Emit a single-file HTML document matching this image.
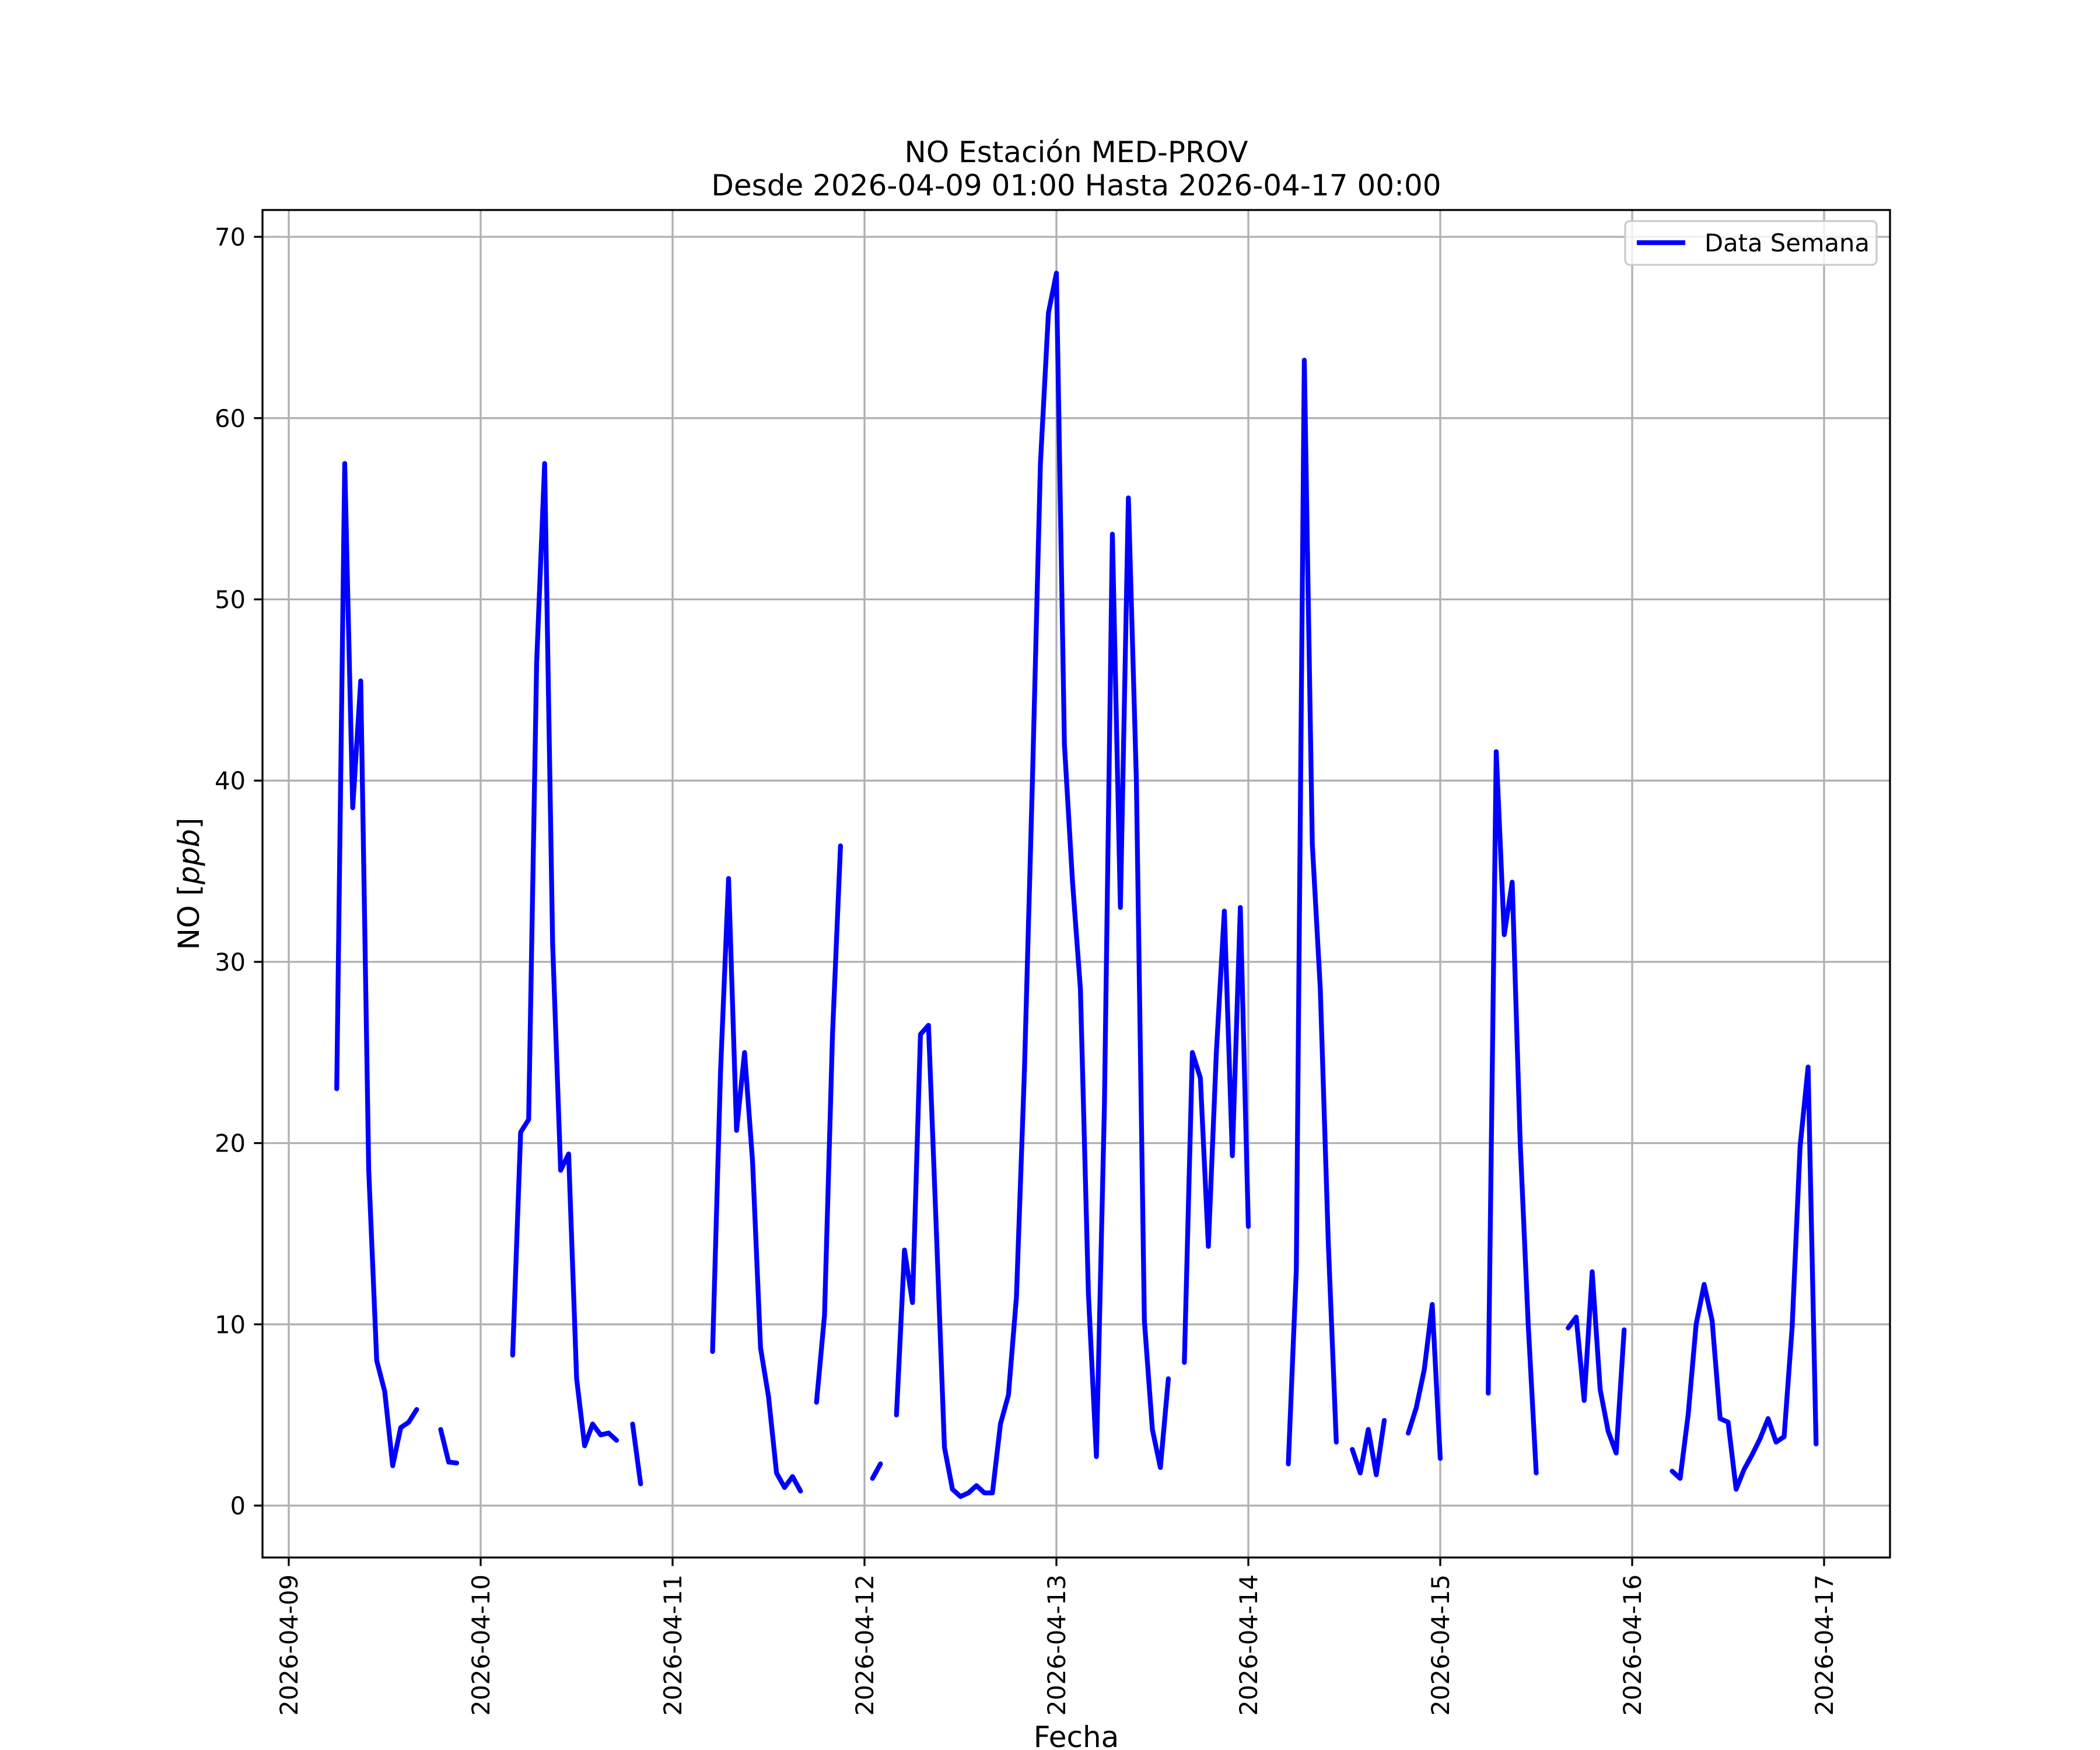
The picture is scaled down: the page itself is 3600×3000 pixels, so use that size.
<!DOCTYPE html>
<html><head><meta charset="utf-8"><style>
html,body{margin:0;padding:0;background:#fff;}
svg{display:block;font-family:"DejaVu Sans","Liberation Sans",sans-serif;}
</style></head><body>
<svg width="3600" height="3000" viewBox="0 0 3600 3000" xmlns="http://www.w3.org/2000/svg">
<rect width="3600" height="3000" fill="#fff"/>
<!-- grid -->
<g stroke="#b0b0b0" stroke-width="3.3">
<line x1="495" y1="360" x2="495" y2="2670"/>
<line x1="824" y1="360" x2="824" y2="2670"/>
<line x1="1153" y1="360" x2="1153" y2="2670"/>
<line x1="1482" y1="360" x2="1482" y2="2670"/>
<line x1="1811" y1="360" x2="1811" y2="2670"/>
<line x1="2140" y1="360" x2="2140" y2="2670"/>
<line x1="2469" y1="360" x2="2469" y2="2670"/>
<line x1="2798" y1="360" x2="2798" y2="2670"/>
<line x1="3127" y1="360" x2="3127" y2="2670"/>
<line x1="450" y1="2581" x2="3240" y2="2581"/>
<line x1="450" y1="2270.3" x2="3240" y2="2270.3"/>
<line x1="450" y1="1959.6" x2="3240" y2="1959.6"/>
<line x1="450" y1="1648.9" x2="3240" y2="1648.9"/>
<line x1="450" y1="1338.2" x2="3240" y2="1338.2"/>
<line x1="450" y1="1027.5" x2="3240" y2="1027.5"/>
<line x1="450" y1="716.8" x2="3240" y2="716.8"/>
<line x1="450" y1="406" x2="3240" y2="406"/>
</g>
<!-- data -->
<g transform="matrix(13.7083,0,0,-31.07,495,2581)" fill="none" stroke="#0000ff" stroke-width="8.3" stroke-linejoin="round" stroke-linecap="round">
<polyline vector-effect="non-scaling-stroke" points="6,23 7,57.5 8,38.5 9,45.5 10,18.5 11,8 12,6.3 13,2.2 14,4.3 15,4.6 16,5.3"/>
<polyline vector-effect="non-scaling-stroke" points="19,4.2 20,2.4 21,2.35"/>
<polyline vector-effect="non-scaling-stroke" points="28,8.3 29,20.6 30,21.3 31,46.5 32,57.5 33,31 34,18.5 35,19.4 36,7 37,3.3 38,4.5 39,3.9 40,4 41,3.6"/>
<polyline vector-effect="non-scaling-stroke" points="43,4.5 44,1.2"/>
<polyline vector-effect="non-scaling-stroke" points="53,8.5 54,24 55,34.6 56,20.7 57,25 58,19 59,8.7 60,6 61,1.8 62,1 63,1.6 64,0.8"/>
<polyline vector-effect="non-scaling-stroke" points="66,5.7 67,10.5 68,26 69,36.4"/>
<polyline vector-effect="non-scaling-stroke" points="73,1.5 74,2.3"/>
<polyline vector-effect="non-scaling-stroke" points="76,5 77,14.1 78,11.2 79,26 80,26.5 81,15 82,3.2 83,0.9 84,0.5 85,0.7 86,1.1 87,0.7 88,0.7 89,4.5 90,6.1 91,11.5 92,24 93,40 94,57.5 95,65.8 96,68 97,42 98,34.5 99,28.5 100,11.7 101,2.7 102,22 103,53.6 104,33 105,55.6 106,40 107,10.2 108,4.2 109,2.1 110,7"/>
<polyline vector-effect="non-scaling-stroke" points="112,7.9 113,25 114,23.6 115,14.3 116,25 117,32.8 118,19.3 119,33 120,15.4"/>
<polyline vector-effect="non-scaling-stroke" points="125,2.3 126,13 127,63.2 128,36.5 129,28.5 130,14.5 131,3.5"/>
<polyline vector-effect="non-scaling-stroke" points="133,3.1 134,1.8 135,4.2 136,1.7 137,4.7"/>
<polyline vector-effect="non-scaling-stroke" points="140,4 141,5.4 142,7.5 143,11.1 144,2.6"/>
<polyline vector-effect="non-scaling-stroke" points="150,6.2 151,41.6 152,31.5 153,34.4 154,20 155,10 156,1.8"/>
<polyline vector-effect="non-scaling-stroke" points="160,9.8 161,10.4 162,5.8 163,12.9 164,6.4 165,4.1 166,2.9 167,9.7"/>
<polyline vector-effect="non-scaling-stroke" points="173,1.9 174,1.5 175,5 176,10 177,12.2 178,10.2 179,4.8 180,4.6 181,0.9 182,2 183,2.8 184,3.7 185,4.8 186,3.5 187,3.8 188,9.8 189,19.8 190,24.2 191,3.4"/>
</g>
<!-- axes frame -->
<rect x="450" y="360" width="2790" height="2310" fill="none" stroke="#000" stroke-width="3.3"/>
<!-- y ticks -->
<g stroke="#000" stroke-width="3.3">
<line x1="435.4" y1="2581" x2="450" y2="2581"/>
<line x1="435.4" y1="2270.3" x2="450" y2="2270.3"/>
<line x1="435.4" y1="1959.6" x2="450" y2="1959.6"/>
<line x1="435.4" y1="1648.9" x2="450" y2="1648.9"/>
<line x1="435.4" y1="1338.2" x2="450" y2="1338.2"/>
<line x1="435.4" y1="1027.5" x2="450" y2="1027.5"/>
<line x1="435.4" y1="716.8" x2="450" y2="716.8"/>
<line x1="435.4" y1="406" x2="450" y2="406"/>
<line x1="495" y1="2670" x2="495" y2="2684.6"/>
<line x1="824" y1="2670" x2="824" y2="2684.6"/>
<line x1="1153" y1="2670" x2="1153" y2="2684.6"/>
<line x1="1482" y1="2670" x2="1482" y2="2684.6"/>
<line x1="1811" y1="2670" x2="1811" y2="2684.6"/>
<line x1="2140" y1="2670" x2="2140" y2="2684.6"/>
<line x1="2469" y1="2670" x2="2469" y2="2684.6"/>
<line x1="2798" y1="2670" x2="2798" y2="2684.6"/>
<line x1="3127" y1="2670" x2="3127" y2="2684.6"/>
</g>
<g font-size="41.7" fill="#000" text-anchor="end">
<text x="421" y="2596">0</text>
<text x="421" y="2285.3">10</text>
<text x="421" y="1974.6">20</text>
<text x="421" y="1663.9">30</text>
<text x="421" y="1353.2">40</text>
<text x="421" y="1042.5">50</text>
<text x="421" y="731.8">60</text>
<text x="421" y="421">70</text>
</g>
<g font-size="41.7" fill="#000" text-anchor="end">
<text transform="translate(510,2699) rotate(-90)">2026-04-09</text>
<text transform="translate(839,2699) rotate(-90)">2026-04-10</text>
<text transform="translate(1168,2699) rotate(-90)">2026-04-11</text>
<text transform="translate(1497,2699) rotate(-90)">2026-04-12</text>
<text transform="translate(1826,2699) rotate(-90)">2026-04-13</text>
<text transform="translate(2155,2699) rotate(-90)">2026-04-14</text>
<text transform="translate(2484,2699) rotate(-90)">2026-04-15</text>
<text transform="translate(2813,2699) rotate(-90)">2026-04-16</text>
<text transform="translate(3142,2699) rotate(-90)">2026-04-17</text>
</g>
<!-- labels -->
<text x="1845" y="2995" font-size="50" text-anchor="middle">Fecha</text>
<text transform="translate(341,1515) rotate(-90)" font-size="50" text-anchor="middle">NO [<tspan font-style="italic">ppb</tspan>]</text>
<text x="1845" y="278" font-size="50" text-anchor="middle">NO Estación MED-PROV</text>
<text x="1845" y="335" font-size="50" text-anchor="middle">Desde 2026-04-09 01:00 Hasta 2026-04-17 00:00</text>
<!-- legend -->
<rect x="2786" y="379" width="431" height="75" rx="8" fill="#fff" fill-opacity="0.8" stroke="#cccccc" stroke-width="3.3"/>
<line x1="2806" y1="416" x2="2889" y2="416" stroke="#0000ff" stroke-width="8.3"/>
<text x="2922" y="431" font-size="41.7">Data Semana</text>
</svg>
</body></html>
